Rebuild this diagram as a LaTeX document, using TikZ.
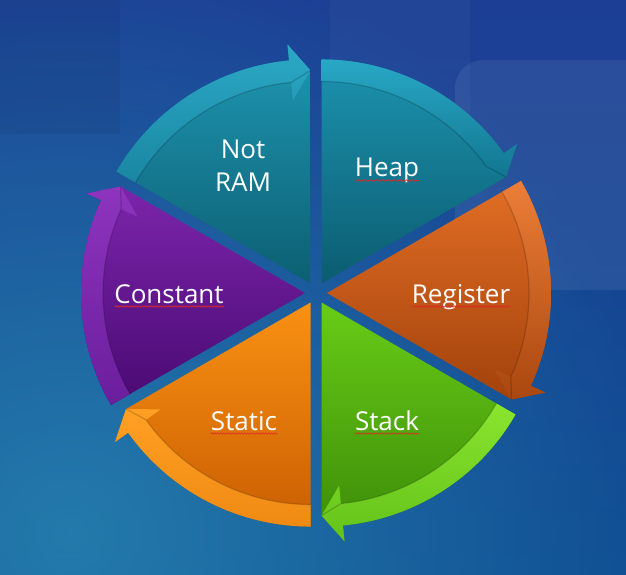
\documentclass[tikz,border=0pt]{standalone}
\usepackage{fontspec}
\setmainfont{Open Sans}
\usetikzlibrary{decorations.pathmorphing,fadings}
\definecolor{bgTop}{HTML}{1C3F95}
\definecolor{bgBot}{HTML}{0F4D92}
\definecolor{bgTeal}{HTML}{2A8AB4}
\definecolor{wavyRed}{HTML}{E02828}
% band / body colours, top and bottom
\definecolor{ramBandT}{HTML}{2BA9C6}\definecolor{ramBandB}{HTML}{1A86A2}
\definecolor{ramBodyT}{HTML}{1F97B3}\definecolor{ramBodyB}{HTML}{0C5F72}
\definecolor{heapBandT}{HTML}{28A8C6}\definecolor{heapBandB}{HTML}{127690}
\definecolor{heapBodyT}{HTML}{1C93AF}\definecolor{heapBodyB}{HTML}{0B5C70}
\definecolor{regBandT}{HTML}{EC7E38}\definecolor{regBandB}{HTML}{A9470F}
\definecolor{regBodyT}{HTML}{E26E25}\definecolor{regBodyB}{HTML}{A2420C}
\definecolor{stackBandT}{HTML}{8AE52E}\definecolor{stackBandB}{HTML}{63C21A}
\definecolor{stackBodyT}{HTML}{68CC16}\definecolor{stackBodyB}{HTML}{3B8A08}
\definecolor{staticBandT}{HTML}{FFA024}\definecolor{staticBandB}{HTML}{F08A12}
\definecolor{staticBodyT}{HTML}{FA9112}\definecolor{staticBodyB}{HTML}{C95E02}
\definecolor{constBandT}{HTML}{8E34BE}\definecolor{constBandB}{HTML}{6A1E9C}
\definecolor{constBodyT}{HTML}{7C25AB}\definecolor{constBodyB}{HTML}{490A72}
\tikzfading[name=glowfade,inner color=transparent!0,outer color=transparent!100]

\begin{document}
\begin{tikzpicture}[x=1pt,y=1pt,
    lbl/.style={text=white,inner sep=0pt,font=\fontsize{26}{33}\selectfont},
    squiggle/.style={draw=wavyRed,line width=0.6pt,decorate,
                     decoration={snake,amplitude=0.8pt,segment length=3pt}}]
  \useasboundingbox (0,0) rectangle (626,574);
  % background
  \begin{scope}
    \clip (0,0) rectangle (626,574);
    \shade[top color=bgTop,bottom color=bgBot] (0,0) rectangle (626,574);
    \fill[bgTeal,path fading=glowfade,fill opacity=0.75] (70,40) circle (600);
    \fill[white,opacity=0.07,rounded corners=28pt] (455,284) rectangle (680,514);
    \fill[white,opacity=0.03] (330,440) rectangle (470,574);
    \fill[black,opacity=0.05] (0,440) rectangle (120,574);
  \end{scope}

  \begin{scope}[shift={(316,281)}]
    \foreach \s/\bandT/\bandB/\bodyT/\bodyB in {
        150/ramBandT/ramBandB/ramBodyT/ramBodyB,
        90/heapBandT/heapBandB/heapBodyT/heapBodyB,
        30/regBandT/regBandB/regBodyT/regBodyB,
        -30/stackBandT/stackBandB/stackBodyT/stackBodyB,
        -90/staticBandT/staticBandB/staticBodyT/staticBodyB,
        -150/constBandT/constBandB/constBodyT/constBodyB}{
      \begin{scope}[shift={({\s-30}:11)}]
        \shade[top color=\bodyT,bottom color=\bodyB]
          (0,0) -- (\s:224) arc[start angle=\s,end angle=\s-54.5,radius=224]
          -- ({\s-54.5}:240) -- ({\s-60}:213) -- cycle;
        \shade[top color=\bandT,bottom color=\bandB]
          (\s:202) arc[start angle=\s,end angle=\s-54.5,radius=202]
          -- ({\s-54.5}:184) -- ({\s-60}:213) -- ({\s-54.5}:240)
          -- ({\s-54.5}:224) arc[start angle=\s-54.5,end angle=\s,radius=224] -- cycle;
        \draw[black,opacity=0.18,line width=1.2pt]
          (\s:202) arc[start angle=\s,end angle=\s-54.5,radius=202] -- ({\s-60}:213);
      \end{scope}
    }
  \end{scope}

  % labels
  \node[lbl,align=center] (notram) at (243,408) {Not\\RAM};
  \node[lbl,anchor=base] (heap) at (387,397) {Heap};
  \node[lbl,anchor=base] (register) at (461,271) {Register};
  \node[lbl,anchor=base] (constant) at (169,271) {Constant};
  \node[lbl,anchor=base] (static) at (244,144) {Static};
  \node[lbl,anchor=base] (stack) at (387,144) {Stack};

  \foreach \n in {heap,register,constant,static,stack}
    \draw[squiggle] ([yshift=-3.5pt]\n.base west) -- ([yshift=-3.5pt]\n.base east);
\end{tikzpicture}
\end{document}
